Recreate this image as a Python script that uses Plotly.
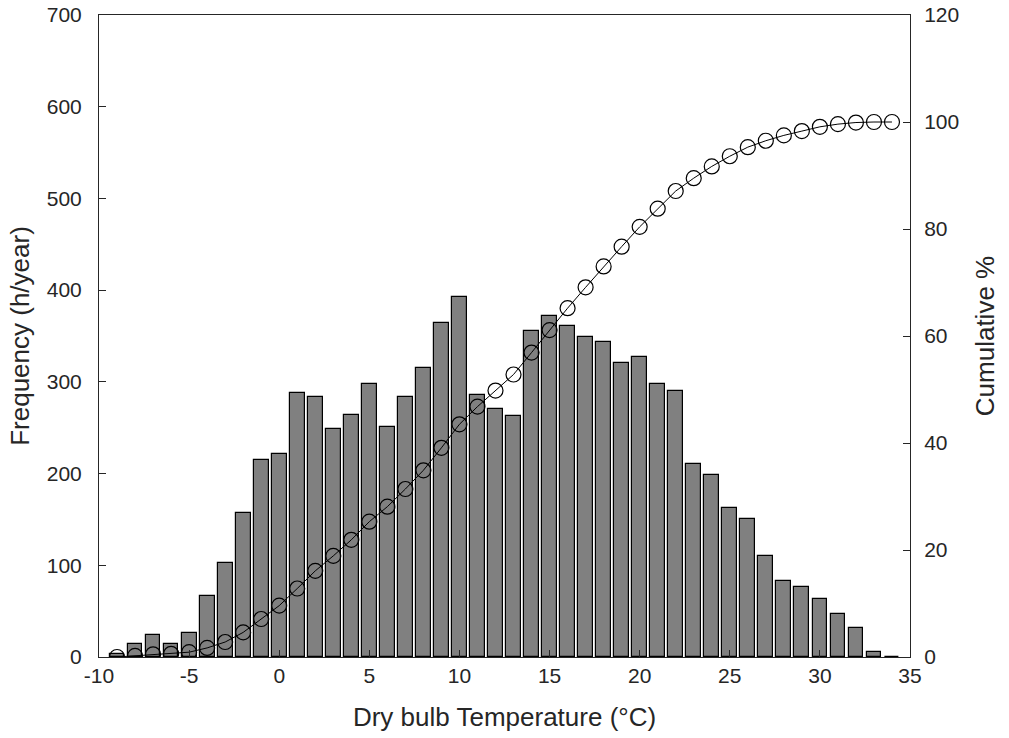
import plotly.graph_objects as go

# Temperature bins (°C)
temps = list(range(-9, 35))
# Frequency (h/year)
frequency = [3, 14, 24, 14, 26, 67, 102, 157, 215, 221,
             288, 284, 249, 264, 298, 251, 284, 315, 364, 392,
             286, 270, 263, 356, 372, 361, 349, 344, 321, 327,
             298, 290, 210, 198, 163, 151, 110, 83, 76, 63,
             47, 32, 5, 0]
# Cumulative % read from circles
cumulative = [0.0, 0.2, 0.5, 0.6, 0.9, 1.7, 2.8, 4.6, 7.1, 9.6,
              12.8, 16.1, 18.9, 21.9, 25.3, 28.1, 31.4, 34.9, 39.1, 43.5,
              46.8, 49.8, 52.8, 56.9, 61.1, 65.2, 69.1, 73.0, 76.7, 80.4,
              83.8, 87.1, 89.5, 91.7, 93.6, 95.3, 96.5, 97.5, 98.3, 99.1,
              99.6, 99.9, 100.0, 100.0]

x_ticks = [-10, -5, 0, 5, 10, 15, 20, 25, 30, 35]
x_tick_labels = ["-10", "-5", "0", "5", "10", "15", "20", "25", "30", "35"]
y_ticks = [0, 100, 200, 300, 400, 500, 600, 700]
y2_ticks = [0, 20, 40, 60, 80, 100, 120]

FONT = "Liberation Sans, Arial, sans-serif"
AX = "#262626"
TICK_SIZE = 21
TITLE_SIZE = 26

fig = go.Figure()
fig.add_trace(go.Bar(
    x=temps, y=frequency, width=0.82,
    marker=dict(color="#808080", line=dict(color="#000000", width=1.2)),
    yaxis="y", showlegend=False,
))
fig.add_trace(go.Scatter(
    x=temps, y=cumulative, mode="lines+markers",
    line=dict(color="#000000", width=1),
    marker=dict(symbol="circle-open", size=15, color="#000000", line=dict(width=1.2)),
    yaxis="y2", showlegend=False,
))

axis_common = dict(
    showgrid=False, zeroline=False, showline=True, linecolor=AX, linewidth=1,
    ticks="inside", ticklen=7, tickcolor=AX, tickwidth=1, automargin=False,
    tickfont=dict(family=FONT, size=TICK_SIZE, color=AX),
)

fig.update_layout(
    width=1009, height=738,
    margin=dict(l=99, r=99, t=15, b=81),
    paper_bgcolor="white", plot_bgcolor="white",
    bargap=0,
    xaxis=dict(range=[-10, 35], tickvals=x_ticks, ticktext=x_tick_labels, mirror=True,
               ticklabelstandoff=0,
               title=dict(text="Dry bulb Temperature (°C)", font=dict(family=FONT, size=TITLE_SIZE, color=AX), standoff=21),
               **axis_common),
    yaxis=dict(range=[0, 700], tickvals=y_ticks, ticklabelstandoff=12,
               title=dict(text="Frequency (h/year)", font=dict(family=FONT, size=TITLE_SIZE, color=AX), standoff=9),
               **axis_common),
    yaxis2=dict(range=[0, 120], tickvals=y2_ticks, overlaying="y", side="right", ticklabelstandoff=9,
                title=dict(text="Cumulative %", font=dict(family=FONT, size=TITLE_SIZE, color=AX), standoff=17),
                **axis_common),
)

fig.write_html("out.html")
